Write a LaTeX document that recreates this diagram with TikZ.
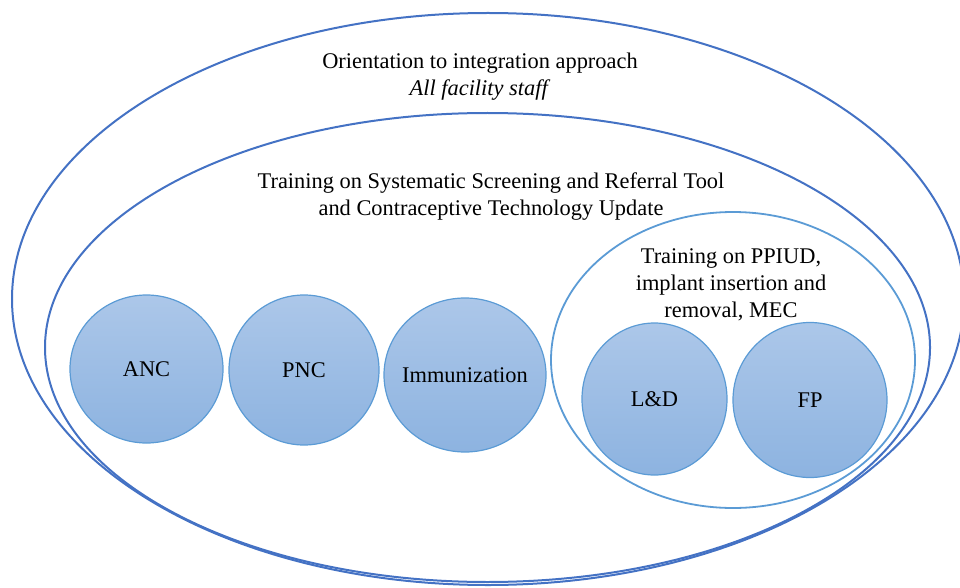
\documentclass[tikz,border=0pt]{standalone}
\usepackage{fontspec}
\setmainfont{Liberation Serif}
\usetikzlibrary{shapes.geometric}
\definecolor{ringdark}{RGB}{68,114,196}
\definecolor{ringlight}{RGB}{91,155,213}
\definecolor{circtop}{RGB}{172,199,233}
\definecolor{circbot}{RGB}{141,179,224}
\newcommand{\zw}[1]{\makebox[0pt]{#1}}
\tikzset{
  ring/.style={ellipse, draw=ringdark, line width=2pt, inner sep=0pt},
  ringin/.style={ellipse, draw=ringlight, line width=1.8pt, inner sep=0pt},
  unit/.style={ellipse, draw=ringlight, line width=1.2pt, top color=circtop, bottom color=circbot, inner sep=0pt, font=\fontsize{22.4}{27}\selectfont},
  lbl/.style={align=center, font=\fontsize{22.4}{27}\selectfont, inner sep=0pt}
}
\begin{document}
\begin{tikzpicture}[x=1pt,y=-1pt]
\useasboundingbox (0,0) rectangle (960,588);
\clip (0,0) rectangle (960,588);
\node[ring, minimum width=952pt, minimum height=572pt] (outer) at (488,299) {};
\node[ring, minimum width=885pt, minimum height=469pt] (mid) at (487.5,347.5) {};
\node[ringin, minimum width=364pt, minimum height=296pt] (inner) at (733,360) {};
\node[lbl] (t1) at (480,77) {Orientation to integration approach\\ \textit{All facility staff}};
\node[lbl] (t2) at (491,197) {Training on Systematic Screening and Referral Tool\\ and Contraceptive Technology Update};
\node[lbl] (t3) at (731,285) {Training on PPIUD,\\ implant insertion and\\ removal, MEC};
\node[unit, minimum width=153pt, minimum height=148pt] (anc) at (146.5,369) {\zw{ANC}};
\node[unit, minimum width=150pt, minimum height=150pt] (pnc) at (304,370) {\zw{PNC}};
\node[unit, minimum width=162pt, minimum height=154pt] (imm) at (465,375) {\zw{Immunization}};
\node[unit, minimum width=145pt, minimum height=152pt] (ld) at (654.5,399) {\zw{L\&D}};
\node[unit, minimum width=154pt, minimum height=155pt] (fp) at (810,400) {\zw{FP}};
\end{tikzpicture}
\end{document}
